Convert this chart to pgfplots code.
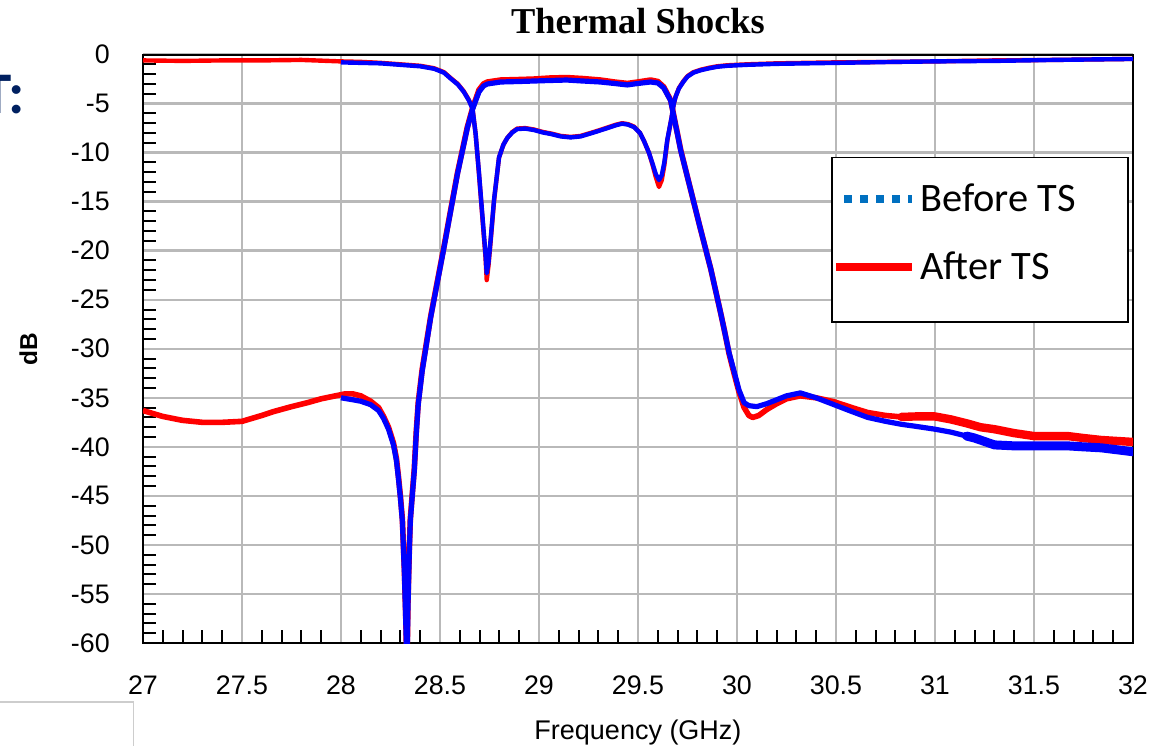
\documentclass[border=0pt]{standalone}
\usepackage{fontspec}
\setmainfont{Liberation Sans}
\newfontfamily\titlefont{Liberation Serif}
\newfontfamily\legfont{Carlito}
\usepackage{pgfplots}
\usepackage{pgfplotstable}
\pgfplotsset{compat=1.18}
\definecolor{plotred}{RGB}{255,0,0}
\definecolor{plotblue}{RGB}{0,0,255}
\definecolor{legblue}{RGB}{0,112,192}
\definecolor{gridgray}{RGB}{185,185,185}
\definecolor{navy}{RGB}{0,32,96}
\definecolor{framegray}{RGB}{205,205,205}

% After TS, S21
\pgfplotstableread{
x y
27.00 -36.3
27.05 -36.6
27.10 -36.9
27.20 -37.3
27.30 -37.5
27.40 -37.5
27.50 -37.4
27.60 -36.8
27.66 -36.4
27.75 -35.9
27.83 -35.5
27.90 -35.1
27.96 -34.85
28.02 -34.6
28.06 -34.6
28.10 -34.8
28.15 -35.35
28.19 -36.0
28.215 -36.9
28.24 -38.0
28.265 -39.6
28.28 -41.2
28.29 -43.0
28.30 -45.0
28.31 -47.4
28.32 -52.5
28.328 -58.0
28.333 -63.0
28.338 -56.0
28.345 -50.5
28.35 -47.4
28.36 -44.8
28.37 -42.3
28.38 -38.5
28.39 -35.5
28.41 -32.1
28.453 -26.7
28.52 -19.6
28.588 -12.1
28.638 -7.4
28.664 -5.5
28.697 -3.6
28.72 -3.0
28.74 -2.8
28.807 -2.6
28.90 -2.55
28.975 -2.5
29.05 -2.4
29.14 -2.35
29.22 -2.45
29.31 -2.6
29.38 -2.8
29.446 -2.95
29.50 -2.8
29.564 -2.6
29.60 -2.75
29.63 -3.3
29.665 -4.65
29.682 -6.35
29.716 -9.75
29.766 -13.8
29.817 -17.9
29.868 -21.9
29.918 -26.4
29.936 -28.1
29.96 -30.5
29.985 -32.5
30.01 -34.4
30.036 -36.0
30.06 -36.8
30.08 -37.0
30.11 -36.8
30.15 -36.2
30.20 -35.6
30.25 -35.1
30.32 -34.8
30.40 -35.0
30.49 -35.4
30.58 -36.0
30.66 -36.5
30.75 -36.8
30.83 -36.95
30.90 -36.9
31.00 -36.9
}\redStwoone
\pgfplotstableread{
x y
30.83 -36.95
30.90 -36.9
31.00 -36.9
31.08 -37.2
31.16 -37.6
31.23 -38.0
31.30 -38.2
31.40 -38.6
31.50 -38.9
31.60 -38.9
31.67 -38.9
31.75 -39.1
31.84 -39.3
31.92 -39.4
32.00 -39.5
}\redStwoonetail
% After TS, S11
\pgfplotstableread{
x y
27.00 -0.6
27.20 -0.65
27.40 -0.6
27.60 -0.6
27.80 -0.55
28.00 -0.7
28.10 -0.75
28.20 -0.85
28.30 -1.0
28.40 -1.15
28.47 -1.4
28.52 -1.8
28.554 -2.4
28.59 -3.0
28.62 -3.75
28.645 -4.6
28.664 -5.45
28.68 -8.1
28.697 -12.2
28.714 -16.6
28.73 -20.7
28.736 -23.0
28.745 -21.5
28.756 -19.0
28.773 -14.9
28.798 -10.5
28.82 -9.2
28.84 -8.5
28.865 -7.9
28.89 -7.55
28.93 -7.5
28.975 -7.65
29.02 -7.9
29.06 -8.05
29.11 -8.3
29.16 -8.4
29.21 -8.3
29.26 -8.0
29.30 -7.75
29.345 -7.45
29.39 -7.15
29.42 -7.0
29.45 -7.1
29.48 -7.35
29.51 -8.0
29.53 -8.8
29.555 -10.0
29.573 -11.2
29.59 -12.5
29.606 -13.5
29.62 -12.8
29.633 -11.3
29.648 -8.8
29.669 -6.5
29.68 -5.1
29.69 -4.3
29.707 -3.4
29.73 -2.7
29.75 -2.2
29.78 -1.8
29.817 -1.55
29.86 -1.35
29.90 -1.2
29.95 -1.1
30.05 -1.0
30.20 -0.9
30.50 -0.8
30.80 -0.75
31.00 -0.7
31.30 -0.6
31.60 -0.55
31.80 -0.5
32.00 -0.45
}\redSeleven
% Before TS, S21
\pgfplotstableread{
x y
28.00 -35.0
28.06 -35.2
28.10 -35.35
28.15 -35.7
28.19 -36.3
28.215 -37.1
28.24 -38.2
28.265 -39.8
28.28 -41.4
28.29 -43.2
28.30 -45.2
28.31 -47.6
28.32 -52.8
28.328 -58.5
28.333 -63.0
28.338 -56.5
28.345 -50.8
28.35 -47.6
28.36 -45.0
28.37 -42.5
28.38 -38.7
28.39 -35.7
28.41 -32.3
28.453 -26.8
28.52 -19.7
28.588 -12.2
28.638 -7.5
28.664 -5.6
28.697 -3.8
28.72 -3.2
28.74 -3.0
28.807 -2.8
28.90 -2.75
28.975 -2.7
29.05 -2.65
29.14 -2.6
29.22 -2.7
29.31 -2.8
29.38 -2.95
29.446 -3.1
29.50 -2.95
29.564 -2.8
29.60 -2.9
29.63 -3.4
29.665 -4.7
29.682 -6.4
29.716 -9.8
29.766 -13.8
29.817 -17.9
29.868 -21.9
29.918 -26.4
29.936 -28.1
29.96 -30.4
29.985 -32.3
30.01 -34.2
30.036 -35.5
30.06 -35.8
30.10 -35.9
30.15 -35.6
30.20 -35.2
30.25 -34.8
30.32 -34.5
30.40 -35.0
30.49 -35.7
30.58 -36.4
30.66 -37.0
30.75 -37.4
30.83 -37.7
30.90 -37.9
31.00 -38.2
31.08 -38.5
31.16 -38.9
31.20 -39.1
31.30 -39.8
}\blueStwoone
\pgfplotstableread{
x y
31.16 -38.9
31.20 -39.1
31.30 -39.8
31.40 -39.9
31.50 -39.9
31.60 -39.9
31.67 -39.9
31.75 -40.0
31.84 -40.1
31.92 -40.3
32.00 -40.5
}\blueStwoonetail
% Before TS, S11
\pgfplotstableread{
x y
28.00 -0.8
28.10 -0.85
28.20 -0.9
28.30 -1.05
28.40 -1.2
28.47 -1.45
28.52 -1.85
28.554 -2.45
28.59 -3.05
28.62 -3.8
28.645 -4.65
28.664 -5.5
28.68 -8.1
28.697 -12.1
28.714 -16.4
28.73 -20.4
28.736 -22.3
28.745 -21.2
28.756 -18.8
28.773 -14.8
28.798 -10.5
28.82 -9.2
28.84 -8.5
28.865 -7.95
28.89 -7.6
28.93 -7.55
28.975 -7.7
29.02 -7.95
29.06 -8.1
29.11 -8.35
29.16 -8.45
29.21 -8.35
29.26 -8.05
29.30 -7.8
29.345 -7.5
29.39 -7.2
29.42 -7.05
29.45 -7.15
29.48 -7.4
29.51 -8.0
29.53 -8.8
29.555 -10.0
29.573 -11.1
29.59 -12.2
29.606 -12.8
29.62 -12.3
29.633 -11.0
29.648 -8.7
29.669 -6.5
29.68 -5.1
29.69 -4.3
29.707 -3.45
29.73 -2.75
29.75 -2.25
29.78 -1.85
29.817 -1.6
29.86 -1.4
29.90 -1.25
29.95 -1.15
30.05 -1.05
30.20 -0.95
30.50 -0.85
30.80 -0.75
31.00 -0.7
31.30 -0.65
31.60 -0.55
31.80 -0.5
32.00 -0.45
}\blueSeleven

\begin{document}
\begin{tikzpicture}
\useasboundingbox (0pt,0pt) rectangle (578.5pt,-373pt);
\node[anchor=base east, text=navy, inner sep=0pt, font=\legfont\bfseries\fontsize{29.5}{34}\selectfont] at (12.75pt,-56.5pt) {T:};
\draw[framegray, line width=0.6pt] (0pt,-351pt) -- (66.7pt,-351pt) -- (66.7pt,-373pt);
\begin{axis}[
  at={(71.5pt,-321.5pt)}, anchor=south west,
  scale only axis, width=495pt, height=294.25pt,
  xmin=27, xmax=32, ymin=-60, ymax=0,
  xtick={27,27.5,28,28.5,29,29.5,30,30.5,31,31.5,32},
  ytick={-60,-55,-50,-45,-40,-35,-30,-25,-20,-15,-10,-5,0},
  minor x tick num=4, minor y tick num=4,
  tick align=inside, tick pos=left,
  major tick length=0pt, minor tick length=6.3pt,
  every tick/.style={black, line width=1pt},
  grid=major, major grid style={gridgray, line width=1.2pt},
  axis line style={black, line width=1pt},
  /pgf/number format/assume math mode=true,
  tick label style={font=\fontsize{13.4}{16}\selectfont},
  yticklabel style={xshift=-13.1pt},
  xticklabel style={yshift=-13pt},
  title={Thermal Shocks},
  title style={font=\titlefont\bfseries\fontsize{18.2}{22}\selectfont, at={(0.5,1)}, anchor=base, yshift=4.6pt},
  xlabel={Frequency (GHz)},
  xlabel style={font=\fontsize{13.5}{16}\selectfont, at={(0.5,0)}, anchor=base, yshift=-48pt},
  ylabel={dB},
  ylabel style={font=\bfseries\fontsize{12.2}{15}\selectfont, at={(-0.107,0.5)}, anchor=base},
  legend style={at={(0.696,0.825)}, anchor=north west, draw=none, fill=none,
    font=\legfont\fontsize{20.2}{24}\selectfont, inner xsep=0pt, inner ysep=11pt, row sep=14.5pt},
  legend cell align=left,
  legend image code/.code={\draw[#1] (0pt,0pt) -- (38pt,0pt);},
]
\addlegendimage{legblue, line width=4pt, dash pattern=on 3.6pt off 4.4pt, dash phase=4pt}
\addlegendentry{Before TS}
\addlegendimage{plotred, line width=4pt}
\addlegendentry{After TS}

\addplot[plotred, line width=2.2pt, line join=round, forget plot] table {\redSeleven};
\addplot[plotred, line width=2.8pt, line join=round, forget plot] table {\redStwoone};
\addplot[plotred, line width=4.2pt, line join=round, line cap=round, forget plot] table {\redStwoonetail};
\addplot[plotblue, line width=2.2pt, line join=round, forget plot] table {\blueSeleven};
\addplot[plotblue, line width=2.6pt, line join=round, forget plot] table {\blueStwoone};
\addplot[plotblue, line width=4.5pt, line join=round, line cap=round, forget plot] table {\blueStwoonetail};
\draw[black, line width=0.9pt, fill=white] (rel axis cs:0.6960,0.8251) rectangle (rel axis cs:0.9949,0.5450);
\end{axis}
\end{tikzpicture}
\end{document}
